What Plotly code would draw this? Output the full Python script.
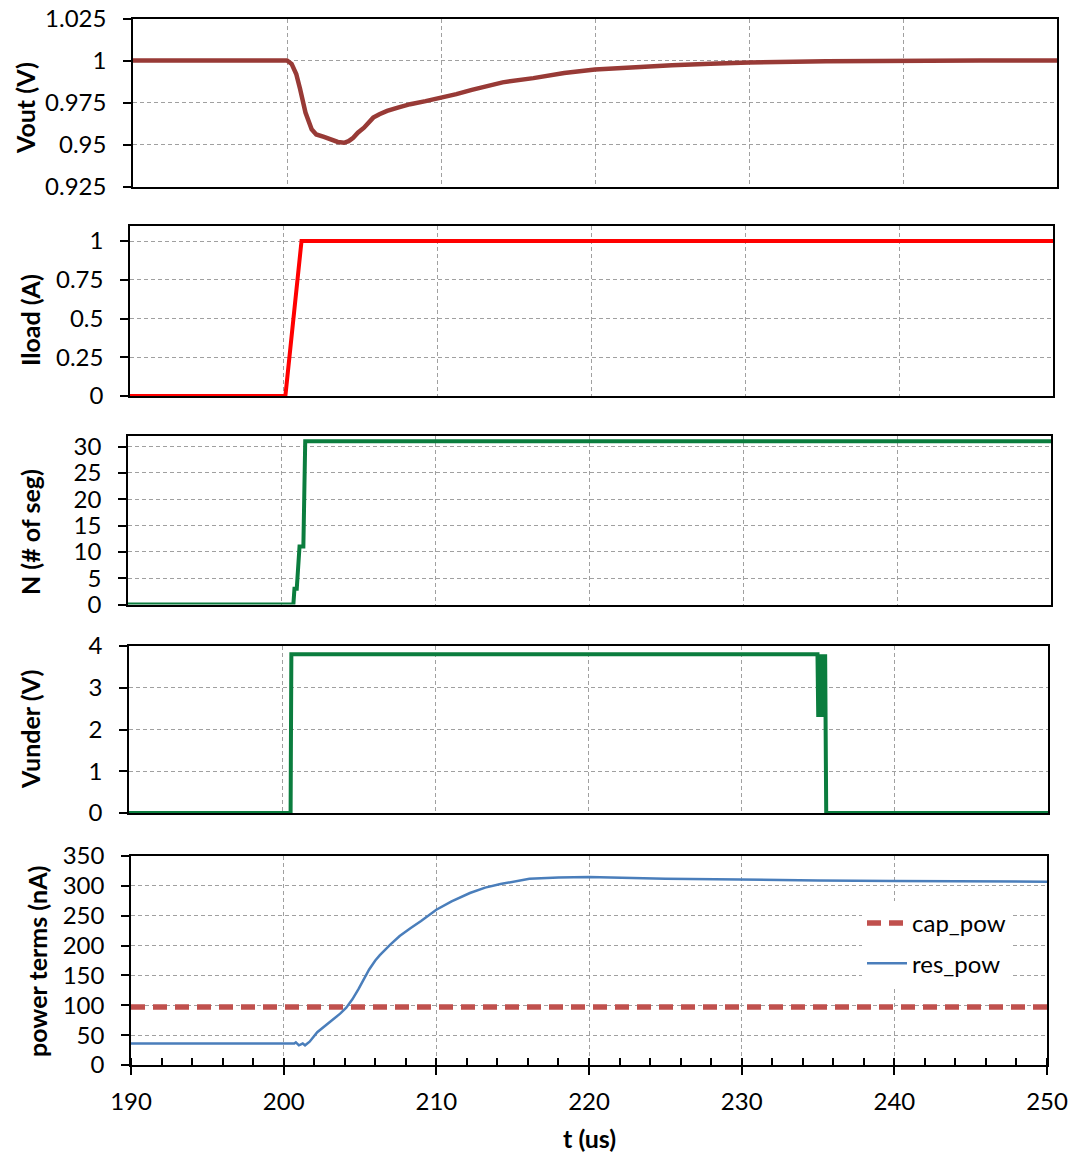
import plotly.graph_objects as go

W, H = 1078, 1153

# ---------------- data ----------------
t_vout = [190, 200.0, 200.3, 200.6, 200.85, 201.2, 201.6, 201.9, 202.4, 202.8, 203.3, 203.7,
          204.0, 204.3, 204.6, 205.0, 205.6, 206.0, 206.5, 207.2, 208.0, 209.0, 210.0, 211.0,
          212.0, 213.0, 214.0, 216.0, 218.0, 220.0, 222.5, 225.0, 227.5, 230.0, 235.0, 240.0,
          245.0, 250.0]
vout = [1.0, 1.0, 0.998, 0.992, 0.983, 0.969, 0.959, 0.956, 0.9545, 0.953, 0.9515, 0.951,
        0.952, 0.954, 0.957, 0.960, 0.966, 0.968, 0.970, 0.972, 0.974, 0.9758, 0.9778, 0.980,
        0.9825, 0.985, 0.987, 0.9895, 0.9925, 0.9946, 0.996, 0.9972, 0.998, 0.9988, 0.9995, 1.0,
        1.0, 1.0]

t_iload = [190, 200.1, 201.15, 250]
iload = [0, 0, 1, 1]

t_n = [190, 200.75, 200.82, 200.97, 201.15, 201.4, 201.52, 250]
n_seg = [0, 0, 3, 3, 11, 11, 31, 31]

t_vunder = [190, 200.55, 200.6, 234.95, 235.0, 235.05, 235.1, 235.15, 235.2, 235.25, 235.3,
            235.4, 235.45, 235.52, 250]
vunder = [0, 0, 3.8, 3.8, 2.3, 3.8, 2.3, 3.8, 2.4, 3.8, 2.3, 3.8, 3.8, 0, 0]

t_cap = [190, 250]
cap_pow = [97, 97]

t_res = [190, 200.7, 200.8, 201.0, 201.1, 201.25, 201.4, 201.7, 202.2, 202.7, 203.25, 203.7,
         204.1, 204.5, 204.9, 205.2, 205.6, 206.0, 206.3, 207.0, 207.6, 208.3, 209.0, 210.0,
         211.0, 212.2, 213.2, 214.2, 215.2, 216.1, 218.0, 220.0, 225.0, 230.0, 235.0, 240.0,
         245.0, 250.0]
res_pow = [36, 36, 38, 33, 34, 36, 33, 39, 55, 65, 76, 86,
           96, 110, 127, 141, 160, 175, 184, 202, 216, 229, 241, 260,
           274, 288, 297, 303, 308, 312, 314, 315, 312, 310, 309, 308,
           307, 307]

x_ticks = [190, 200, 210, 220, 230, 240, 250]
vout_ticks = [0.925, 0.95, 0.975, 1, 1.025]
vout_tick_text = ["0.925", "0.95", "0.975", "1", "1.025"]
iload_ticks = [0, 0.25, 0.5, 0.75, 1]
iload_tick_text = ["0", "0.25", "0.5", "0.75", "1"]
n_ticks = [0, 5, 10, 15, 20, 25, 30]
vunder_ticks = [0, 1, 2, 3, 4]
pow_ticks = [0, 50, 100, 150, 200, 250, 300, 350]

# ---------------- layout helpers ----------------
FONT = "Lato, 'Open Sans', sans-serif"
boxes = [  # (left, right, top, bottom) in px
    (133, 1057, 18.5, 186.5),
    (130, 1053, 225.5, 396),
    (128, 1051, 436, 604.5),
    (129, 1048, 646, 813),
    (131, 1047, 856, 1065),
]
yranges = [[0.925, 1.025], [0, 1.1], [0, 32], [0, 4], [0, 350]]
ytickvals = [vout_ticks, iload_ticks, n_ticks, vunder_ticks, pow_ticks]
yticktexts = [vout_tick_text, iload_tick_text, [str(v) for v in n_ticks],
              [str(v) for v in vunder_ticks], [str(v) for v in pow_ticks]]


def px_x(p):
    return p / W


def px_y(p):
    return 1 - p / H


fig = go.Figure()

series = [
    (t_vout, vout, "#983a36", 4.5, None, "Vout", 1, False),
    (t_iload, iload, "#ff0000", 4, None, "Iload", 2, False),
    (t_n, n_seg, "#0b7d3e", 4, None, "N", 3, False),
    (t_vunder, vunder, "#0b7d3e", 4, None, "Vunder", 4, False),
    (t_cap, cap_pow, "#c0504d", 5.5, "14px,8px", "cap_pow", 5, True),
    (t_res, res_pow, "#4a7ebb", 2.5, None, "res_pow", 5, True),
]
for xs, ys, col, w, dash, name, k, leg in series:
    sfx = "" if k == 1 else str(k)
    line = dict(color=col, width=w)
    if dash:
        line["dash"] = dash
    fig.add_trace(go.Scatter(x=xs, y=ys, mode="lines", line=line, name=name,
                             showlegend=leg, legendgroup=name,
                             xaxis="x" + sfx, yaxis="y" + sfx))

grid = dict(showgrid=True, gridcolor="#a0a0a0", gridwidth=1, griddash="4px,3px")
axis_line = dict(showline=True, linecolor="#000000", linewidth=1.5, mirror=True)
tickfont = dict(family=FONT, size=24, color="#000000")

layout = dict(width=W, height=H, margin=dict(l=0, r=0, t=0, b=0, autoexpand=False),
              template="none",
              paper_bgcolor="white", plot_bgcolor="white",
              font=dict(family=FONT, color="#000000"))

for i, (l, r, t, b) in enumerate(boxes):
    k = i + 1
    sfx = "" if k == 1 else str(k)
    xa = dict(domain=[px_x(l), px_x(r)], range=[190, 250], anchor="y" + sfx,
              tickvals=x_ticks, zeroline=False, automargin=False, **grid, **axis_line)
    if k < 5:
        xa.update(showticklabels=False, ticks="")
    else:
        xa.update(showticklabels=True, ticks="outside", ticklen=8, tickwidth=1.5,
                  tickcolor="#000000", tickfont=tickfont, ticklabelstandoff=6,
                  minor=dict(dtick=2, tick0=190, ticks="inside", ticklen=7,
                             tickwidth=1.5, tickcolor="#000000", showgrid=False))
    ya = dict(domain=[px_y(b), px_y(t)], range=yranges[i], anchor="x" + sfx,
              tickvals=ytickvals[i], ticktext=yticktexts[i], zeroline=False,
              automargin=False,
              ticks="outside", ticklen=8, tickwidth=1.5, tickcolor="#000000",
              tickfont=tickfont, ticklabelstandoff=12, **grid, **axis_line)
    layout["xaxis" + sfx] = xa
    layout["yaxis" + sfx] = ya

titles = [("Vout (V)", 25, 108), ("Iload (A)", 30, 320), ("N (# of seg)", 30, 532),
          ("Vunder (V)", 30, 730), ("power terms (nA)", 37, 962)]
annotations = []
for txt, x, y in titles:
    annotations.append(dict(text="<b>" + txt + "</b>", x=px_x(x), y=px_y(y),
                            xref="paper", yref="paper", showarrow=False, textangle=-90,
                            xanchor="center", yanchor="middle",
                            font=dict(family=FONT, size=25, color="#000000")))
annotations.append(dict(text="<b>t (us)</b>", x=px_x(589), y=px_y(1138), xref="paper",
                        yref="paper", showarrow=False, xanchor="center", yanchor="middle",
                        font=dict(family=FONT, size=25, color="#000000")))
layout["annotations"] = annotations
layout["legend"] = dict(x=px_x(862), y=px_y(901), xanchor="left", yanchor="top",
                        bgcolor="white", borderwidth=0, tracegroupgap=6,
                        font=dict(family=FONT, size=24, color="#000000"),
                        itemwidth=40)

fig.update_layout(**layout)
fig.write_html("out.html",
               config={"displayModeBar": False},
               post_script="document.body.style.margin='0px';"
                           "document.body.style.overflow='hidden';"
                           "document.documentElement.style.overflow='hidden';")
